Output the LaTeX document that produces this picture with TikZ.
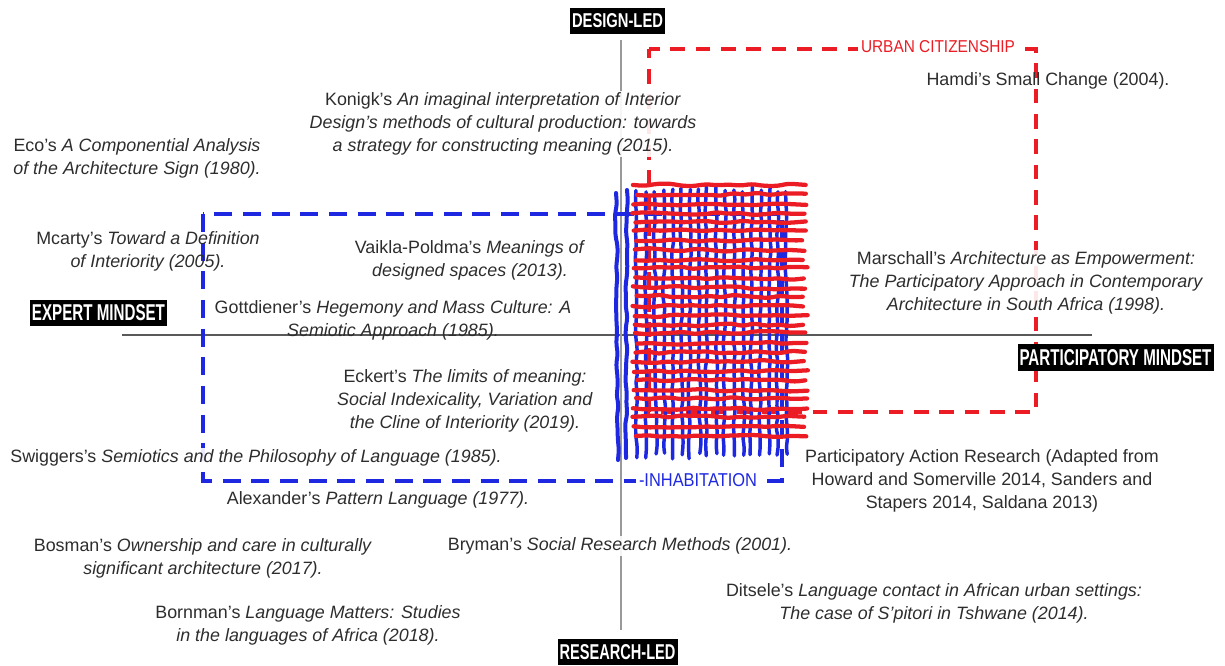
\documentclass[tikz,border=0pt]{standalone}
\usepackage{fontspec}
\setmainfont{Liberation Sans}
\usetikzlibrary{decorations.pathmorphing}
\newlength\pxu
\setlength\pxu{0.75pt}
\definecolor{inkblue}{RGB}{30,40,225}
\definecolor{inkred}{RGB}{236,28,36}
\definecolor{txt}{RGB}{45,45,45}
\newcommand\capslabel[3]{\resizebox{#2\pxu}{#3\pxu}{#1}}
\begin{document}
\begin{tikzpicture}[x=0.75pt,y=-0.75pt,
  ref/.style={font=\fontsize{13.4}{17.25}\selectfont, text=txt, align=center, inner sep=1pt},
  refbg/.style={ref, fill=white, fill opacity=0.9, text opacity=1},
  axistag/.style={fill=black, text=white, inner xsep=1.5pt, inner ysep=0pt, minimum height=20pt, font=\bfseries},
  axisv/.style={draw=black!40, line width=1.1pt},
  axish/.style={draw=black!65, line width=0.8pt},
  bluedash/.style={draw=inkblue, line width=3.3pt, dash pattern=on 13.5pt off 8pt},
  reddash/.style={draw=inkred, line width=2.8pt, dash pattern=on 11pt off 8pt},
  bluestroke/.style={draw=inkblue, line width=2.6pt, line cap=round,
    decorate, decoration={random steps, segment length=8pt, amplitude=1pt}, rounded corners=3pt},
  redstroke/.style={draw=inkred, line width=3.2pt, line cap=round,
    decorate, decoration={random steps, segment length=9pt, amplitude=1.1pt}, rounded corners=3pt}]
\useasboundingbox (0,0) rectangle (1225,665);
\pgfmathsetseed{4217}

% axes
\coordinate (vtop) at (621,40);
\coordinate (vbot) at (621,630);
\coordinate (hleft) at (122,335);
\coordinate (hright) at (1092,335);
\draw[axish] (hleft) -- (hright);
\draw[axisv] (vtop) -- (vbot);

% urban citizenship frame
\coordinate (rA) at (649,49);
\coordinate (rB) at (1036,412);
\draw[reddash, dash phase=4pt] (rA) rectangle (rB);
\node[fill=white, inner sep=2pt, text=inkred] (urban) at (938,47) {\capslabel{URBAN CITIZENSHIP}{154}{12}};

% inhabitation frame
\coordinate (bA) at (203,214);
\coordinate (bB) at (782,481);
\draw[bluedash] (bA) rectangle (bB);
\node[fill=white, inner sep=2pt, text=inkblue] (inhab) at (698,480) {\capslabel{-INHABITATION}{118}{13}};

% woven patch: blue warp
\draw[bluestroke, line width=3pt] (616,193) -- (618,460);
\draw[bluestroke, line width=3pt] (627,190) -- (626,458);
\foreach \i in {0,...,17}{
  \pgfmathsetmacro\xx{637+8.8*\i}
  \draw[bluestroke] (\xx+rand*1.2,189+rand*3) -- (\xx+rand*1.5,456+rand*3);
}
% woven patch: red weft
\foreach \j in {0,...,27}{
  \pgfmathsetmacro\yy{185+9.3*\j}
  \draw[redstroke] (635+rand*3,\yy+rand*1) -- (805+rand*3,\yy+rand*1.5);
}

% references
\node[refbg] (konigk) at (503,124) {Konigk's \textit{An imaginal interpretation of Interior}\\\textit{Design's methods of cultural production: towards}\\\textit{a strategy for constructing meaning (2015).}};
\node[ref] (eco) at (137,158.5) {Eco's \textit{A Componential Analysis}\\\textit{of the Architecture Sign (1980).}};
\node[ref] (hamdi) at (1048,81) {Hamdi's Small Change (2004).};
\node[ref] (mcarty) at (148,251.5) {Mcarty's \textit{Toward a Definition}\\\textit{of Interiority (2005).}};
\node[ref] (vaikla) at (470,260.5) {Vaikla-Poldma's \textit{Meanings of}\\\textit{designed spaces (2013).}};
\node[refbg] (marschall) at (1026,282.5) {Marschall's \textit{Architecture as Empowerment:}\\\textit{The Participatory Approach in Contemporary}\\\textit{Architecture in South Africa (1998).}};
\node[ref] (gottdiener) at (393,320.5) {Gottdiener's \textit{Hegemony and Mass Culture: A}\\\textit{Semiotic Approach (1985).}};
\node[ref] (eckert) at (465,401) {Eckert's \textit{The limits of meaning:}\\\textit{Social Indexicality, Variation and}\\\textit{the Cline of Interiority (2019).}};
\node[refbg] (swiggers) at (256,458) {Swiggers's \textit{Semiotics and the Philosophy of Language (1985).}};
\node[ref] (par) at (982,481) {Participatory Action Research (Adapted from\\Howard and Somerville 2014, Sanders and\\Stapers 2014, Saldana 2013)};
\node[ref] (alexander) at (378,500) {Alexander's \textit{Pattern Language (1977).}};
\node[ref] (bosman) at (203,558.5) {Bosman's \textit{Ownership and care in culturally}\\\textit{significant architecture (2017).}};
\node[refbg] (bryman) at (620,546) {Bryman's \textit{Social Research Methods (2001).}};
\node[ref] (ditsele) at (934,603) {Ditsele's \textit{Language contact in African urban settings:}\\\textit{The case of S'pitori in Tshwane (2014).}};
\node[ref] (bornman) at (308,625.5) {Bornman's \textit{Language Matters: Studies}\\\textit{in the languages of Africa (2018).}};

% axis tags
\node[axistag] (design) at (617.5,21) {\capslabel{DESIGN-LED}{91}{14}};
\node[axistag] (expert) at (98.5,313) {\capslabel{EXPERT MINDSET}{133}{16}};
\node[axistag] (particip) at (1115.5,357.5) {\capslabel{PARTICIPATORY MINDSET}{192}{16}};
\node[axistag] (research) at (617.5,652) {\capslabel{RESEARCH-LED}{116}{15}};
\end{tikzpicture}
\end{document}
